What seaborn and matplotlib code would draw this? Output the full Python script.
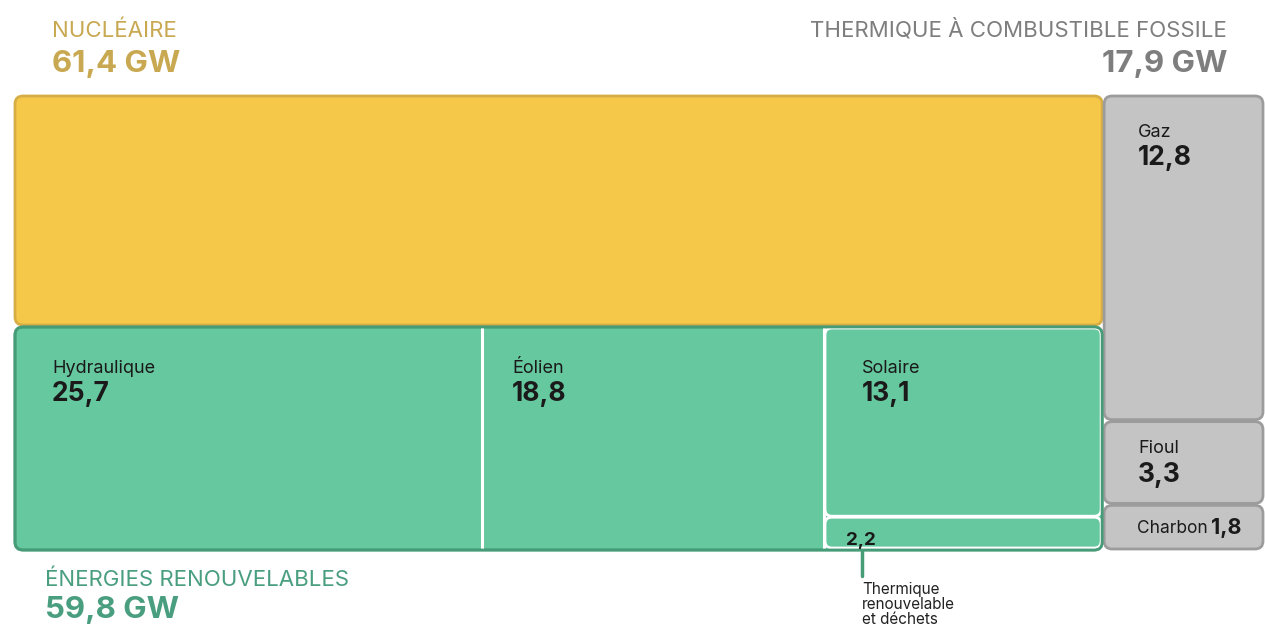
import matplotlib
matplotlib.use("Agg")
import matplotlib.pyplot as plt
from matplotlib.patches import FancyBboxPatch
import seaborn as sns

# ---- data ----
groups = ["NUCLÉAIRE", "ÉNERGIES RENOUVELABLES", "THERMIQUE À COMBUSTIBLE FOSSILE"]
group_totals = [61.4, 59.8, 17.9]
renew_names = ["Hydraulique", "Éolien", "Solaire", "Thermique renouvelable et déchets"]
renew_values = [25.7, 18.8, 13.1, 2.2]
fossil_names = ["Gaz", "Fioul", "Charbon"]
fossil_values = [12.8, 3.3, 1.8]

def fr(v):
    return f"{v:.1f}".replace(".", ",")

sns.set_theme(style="white")
plt.rcParams["font.family"] = ["Inter", "DejaVu Sans"]

C_NUC, E_NUC, T_NUC = "#F5C84A", "#D6AE45", "#C8A850"
C_REN, E_REN, T_REN = "#66C89F", "#479C78", "#4A9E80"
C_FOS, E_FOS, T_FOS = "#C4C4C4", "#9C9C9C", "#7E7E7E"
TXT = "#1a1a1a"

fig = plt.figure(figsize=(12.65, 6.28), dpi=100)
ax = fig.add_axes([0, 0, 1, 1])
ax.set_xlim(0, 1265)
ax.set_ylim(628, 0)
ax.axis("off")

X0, Y0, W, H = 15, 96, 1250, 454
total = sum(group_totals)
left_w = W * (group_totals[0] + group_totals[1]) / total
nuc_h = H * group_totals[0] / (group_totals[0] + group_totals[1])
gap = 2

def rbox(x, y, w, h, fc, ec, lw=2.0, r=8, z=1):
    p = FancyBboxPatch((x, y), w, h, boxstyle=f"round,pad=0,rounding_size={r}",
                       fc=fc, ec=ec, lw=lw, zorder=z, mutation_aspect=1)
    ax.add_patch(p)

# nuclear
rbox(X0, Y0, left_w - gap, nuc_h - gap / 2, C_NUC, E_NUC)

# renewables
ry = Y0 + nuc_h + gap / 2
rh = H - nuc_h - gap / 2
rw = left_w - gap
rbox(X0, ry, rw, rh, C_REN, E_REN)
col_vals = [renew_values[0], renew_values[1], renew_values[2] + renew_values[3]]
rsum = sum(col_vals)
xs = [X0]
for v in col_vals:
    xs.append(xs[-1] + rw * v / rsum)
for xb in xs[1:3]:
    ax.plot([xb, xb], [ry + 1, ry + rh - 1], color="white", lw=2.2, zorder=3)
sx, sw = xs[2] + 1, xs[3] - xs[2] - 2
sol_h = (rh - 2) * renew_values[2] / col_vals[2]
rbox(sx, ry + 1, sw, sol_h - 1, C_REN, "white", lw=2.0, r=7, z=2)
rbox(sx, ry + sol_h + 1, sw, rh - sol_h - 3, C_REN, "white", lw=2.0, r=7, z=2)
outer = FancyBboxPatch((X0, ry), rw, rh, boxstyle="round,pad=0,rounding_size=8",
                       fc="none", ec=E_REN, lw=2.0, zorder=4)
ax.add_patch(outer)

offs = [37, 30, 38]
for i in range(3):
    cx = xs[i] + offs[i]
    ax.text(cx, ry + 46, renew_names[i], fontsize=13, color=TXT, va="baseline", zorder=5)
    ax.text(cx, ry + 74, fr(renew_values[i]), fontsize=19, fontweight="bold",
            color=TXT, va="baseline", zorder=5)
ax.text(xs[2] + 22, ry + rh - 5, fr(renew_values[3]), fontsize=13.5, fontweight="bold",
        color=TXT, va="baseline", zorder=5)
ann_x = xs[2] + 38
ax.plot([ann_x, ann_x], [ry + rh + 1, ry + rh + 26], color=E_REN, lw=2.5, zorder=5)
ax.text(ann_x, ry + rh + 32, "Thermique\nrenouvelable\net déchets", fontsize=11,
        color="#222222", va="top", ha="left", linespacing=1.0, zorder=5)

# fossil column
fx = X0 + left_w
fw = W - left_w
fsum = sum(fossil_values)
y = Y0
cells = []
for v in fossil_values:
    h = H * v / fsum
    cells.append((y, h))
    y += h
for (cy, ch) in cells:
    rbox(fx, cy + (0 if cy == Y0 else gap / 2), fw - 2, ch - (gap / 2 if cy == Y0 else gap), C_FOS, E_FOS)
for i in range(2):
    cy, ch = cells[i]
    ax.text(fx + 34, cy + (41 if i == 0 else 32), fossil_names[i], fontsize=13,
            color=TXT, va="baseline", zorder=5)
    ax.text(fx + 34, cy + (69 if i == 0 else 61), fr(fossil_values[i]), fontsize=19,
            fontweight="bold", color=TXT, va="baseline", zorder=5)
cy, ch = cells[2]
ax.text(fx + 104, cy + ch / 2 + 1, fossil_names[2], fontsize=12.5, color=TXT,
        ha="right", va="center", zorder=5)
ax.text(fx + 107, cy + ch / 2 + 1, fr(fossil_values[2]), fontsize=15.5, fontweight="bold",
        color=TXT, ha="left", va="center", zorder=5)

# group titles
ax.text(52, 37, groups[0], fontsize=16, color=T_NUC, va="baseline")
ax.text(52, 72, f"{fr(group_totals[0])} GW", fontsize=22.5, fontweight="bold", color=T_NUC, va="baseline")
ax.text(1227, 37, groups[2], fontsize=16, color=T_FOS, va="baseline", ha="right")
ax.text(1227, 72, f"{fr(group_totals[2])} GW", fontsize=22.5, fontweight="bold", color=T_FOS,
        va="baseline", ha="right")
ax.text(45, 586, groups[1], fontsize=16, color=T_REN, va="baseline")
ax.text(45, 618, f"{fr(group_totals[1])} GW", fontsize=22.5, fontweight="bold", color=T_REN, va="baseline")

fig.savefig("out.png", dpi=100, facecolor="white")
